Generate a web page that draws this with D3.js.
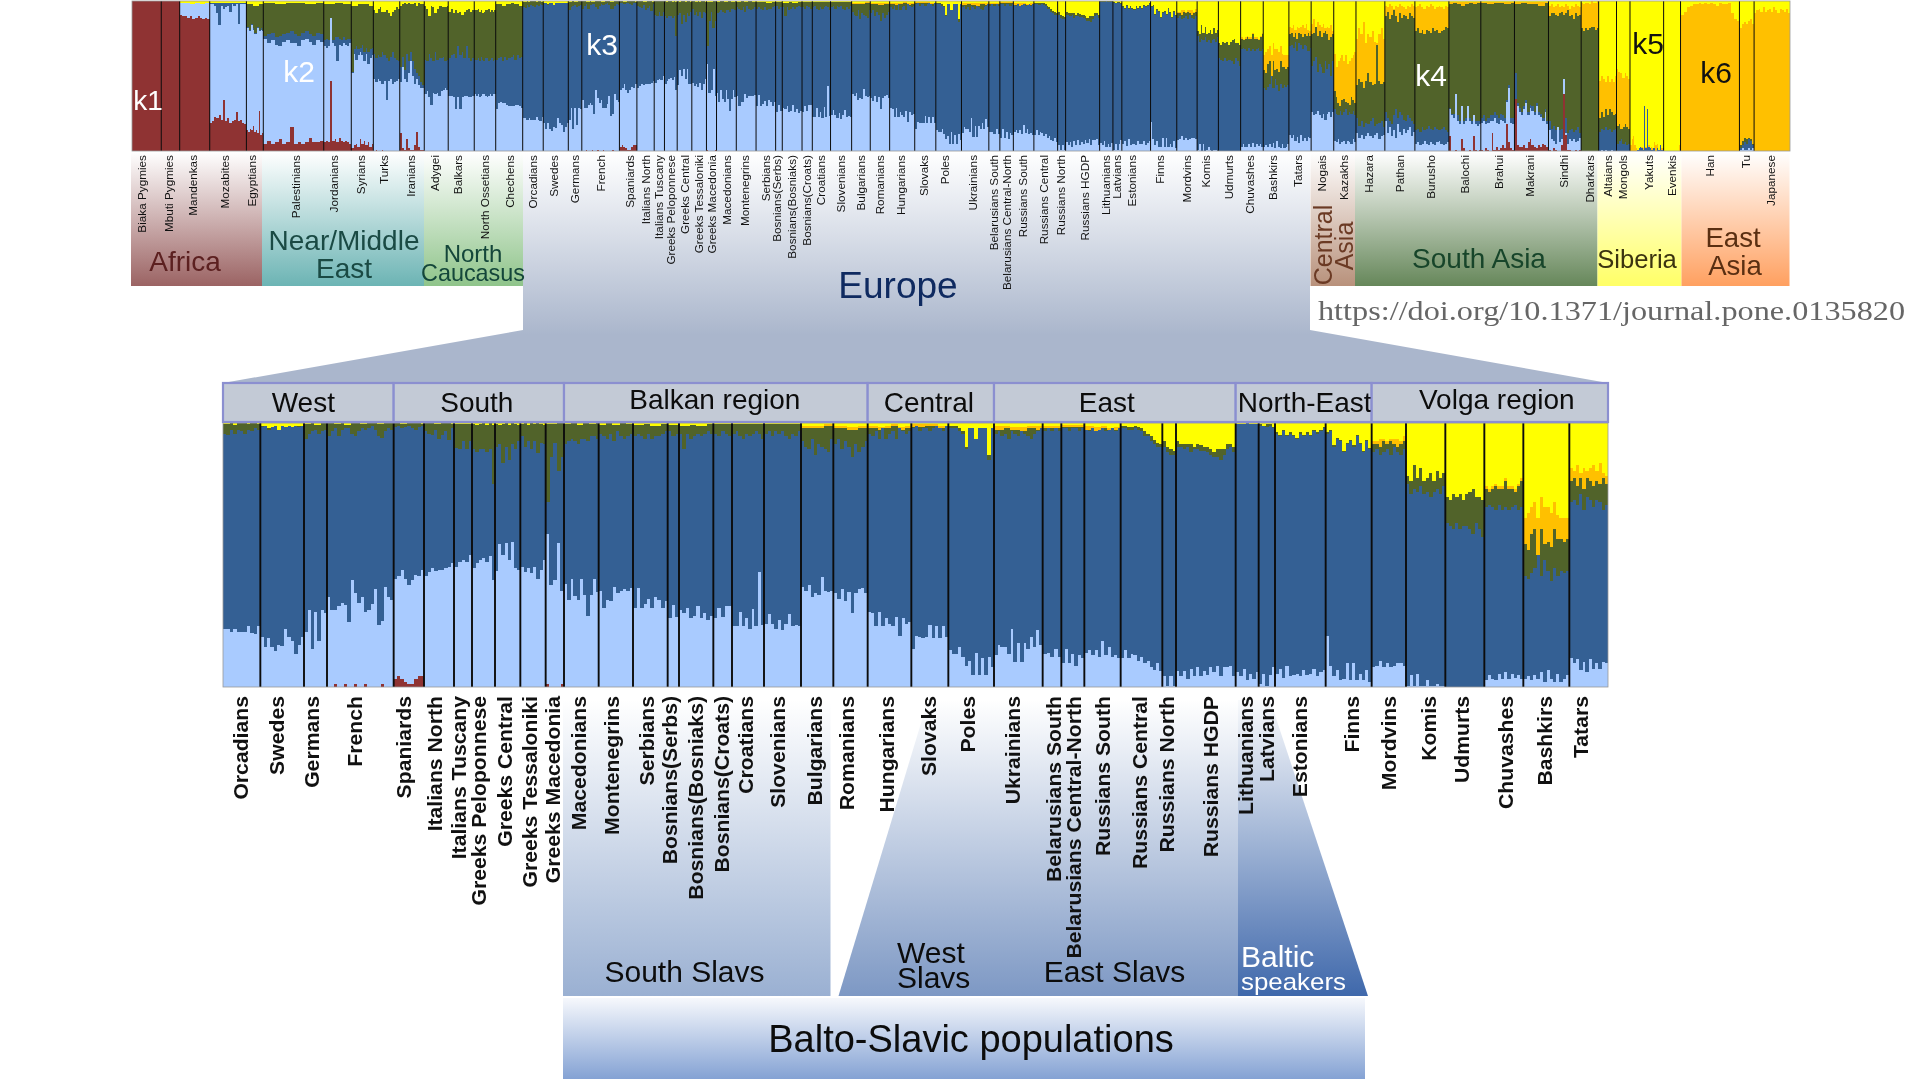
<!DOCTYPE html>
<html><head><meta charset="utf-8">
<script src="https://cdn.jsdelivr.net/npm/d3@7"></script>
<style>html,body{margin:0;padding:0;background:#fff}svg{display:block;filter:blur(0.35px)}text{font-family:"Liberation Sans",Arial,sans-serif}</style>
</head><body><svg id="c" width="1920" height="1080"></svg>
<script>
// ---------- names ----------
const preNames=["Biaka Pygmies","Mbuti Pygmies","Mandenkas","Mozabites","Egyptians","Palestinians","Jordanians","Syrians","Turks","Iranians","Adygei","Balkars","North Ossetians","Chechens"];
const europeNames=["Orcadians","Swedes","Germans","French","Spaniards","Italians North","Italians Tuscany","Greeks Peloponnese","Greeks Central","Greeks Tessaloniki","Greeks Macedonia","Macedonians","Montenegrins","Serbians","Bosnians(Serbs)","Bosnians(Bosniaks)","Bosnians(Croats)","Croatians","Slovenians","Bulgarians","Romanians","Hungarians","Slovaks","Poles","Ukrainians","Belarusians South","Belarusians Central-North","Russians South","Russians Central","Russians North","Russians HGDP","Lithuanians","Latvians","Estonians","Finns","Mordvins","Komis","Udmurts","Chuvashes","Bashkirs","Tatars"];
const postNames=["Nogais","Kazakhs","Hazara","Pathan","Burusho","Balochi","Brahui","Makrani","Sindhi","Dharkars","Altaians","Mongols","Yakuts","Evenkis","Han","Tu","Japanese"];

// ---------- sample sizes (bar widths are read through the x scales) ----------
const preSizes=[15.4,9.7,15.8,19.3,8.9,31.8,14.5,11.6,13.9,12.9,12.6,13.7,11.3,14.2];
const europeSizesTop=[10.8,13.2,7.1,19.8,9.2,9.1,5.4,6.7,7.7,7.7,5.3,10.4,10.4,10.3,3.5,10.4,5.4,9.6,11.1,9.8,10.2,13.2,11.1,13.5,14.4,5.8,7.1,10.8,12.5,4.2,17.9,7,4.7,15.1,13.8,10.7,11.2,11.7,11.9,13.5,11.7];
const postSizes=[11.9,11.7,15.2,15.8,17.9,16.8,17.7,17.9,17.2,9.2,9.4,7.1,17.7,8.9,31,7.7,18.9];
const europeSizes=[11.2,13.1,6.9,20,9.1,9,5.4,6.9,7.6,7.6,5.5,10.4,10.3,10.4,3.4,10.3,5.6,9.6,11.1,9.7,10.3,13.1,11.1,13.7,14.6,5.6,6.9,10.9,12.5,4.1,17.9,6.9,4.9,15.2,13.8,10.3,11.8,11.7,11.7,13.8,11.6];

// ---------- Europe: cumulative upper edge of each ancestry, % per individual ----------
const europeK1=[[0],[0],[0],[0,0,1,0,0,1,0,0,1,0,0,1,0,0,0,0,1,0,0,0],[3,4,3,2,1,1,3,4,4],[0],[0],[0],[0],[0],[1,0,0,0,1],[0],[0],[0],[0],[0],[0],[0],[0],[0],[0],[0],[0],[0],[0],[0],[0],[0],[0],[0],[0],[0],[0],[0],[0],[0],[0],[0],[0],[0],[0]];
const europeK2=[
[22,22,21,22,21,21,21,23,20.5,20,23],
[19,15,18.5,15,13.5,16,15.5,22,19,17.5,12.5,16,19],
[21,29,14.5,28.5,17.5,29,28],
[34,29,29,30.5,32,31,24.5,40.5,35.5,32,34,28.5,29,31.5,37,23.5,25,38,34,33],
[41,42,44.5,41,38.5,40.5,42.5,42,44.5],
[42,43.5,45,44,44.5,44.5,45,45.5,47],
[45.5,47.5,48,47.5,50],
[45,47,48,49,47.5,49.5,40.5],
[44,54,50,54.5,48,55,45,44.5],
[45.5,43.5,45,43,45.5,41,44.5,48],
[58,38.5,40.5,54.5,36.5],
[39,33,41,34.5,33,41,35,27,35,41,36],
[36.5,30,33,32.5,38,35.5,36.5,37,36.5,37.5],
[30,37.5,30,31.5,33.5,30,34,33,30,32.5],
[26,31,26.5],
[29,28,30,26,27,30.5,26,28,25.5,27],
[26,30,26.5,30.5,30.5],
[23,23,28.5,23,26,22,29.5,23,43.5,23.5],
[24,27.5,24,22,25.5,21.5,24,27.5,23,23.5,23],
[38,36.5,38.5,34,35.5,35,41.5,36.5,36,36.5],
[35.5,33.5,37,32.5,36,28,35.5,37,37.5,35.5],
[28.5,28,23,28.5,23,26,24,23,26.5,19.5,26,24,24.5],
[14.5,19.5,19,18.5,19,23.5,18.5,23,18.5,23,19],
[14,12.5,12.5,15,11.5,8,10,4.5,13,4.5,11,4.5,11.5,7.5],
[12,16,15,15,12.5,22,9.5,16.5,9.5,16.5,14.5,19,15,21.5,16],
[12.5,13,11.5,14.5,11.5],
[9,14.5,9,12.5,8,12,11],
[13,14,12,14,11.5,17.5,12,15,11.5,12,11],
[11,14,11,12.5,12,10,11.5,9,10,7.5,6.5,9,6],
[4,0.5,4,0.5],
[6,4,6,3,7,4,7.5,4,6,4.5,7.5,5.5,8,4,7.5,7.5,8,4],
[5.5,4,7,2.5,5,3,5.5],
[1,5,0.5,4.5,7.5],
[5,7,3.5,8,4,4.5,5,4,6.5,4.5,5,7,4,5.5,6.5],
[19.5,8,4,6.5,2.5,3,9,2.5,9,2.5,5,2.5,6.5,2],
[7.5,8,10,7.5,9,7.5,8,9,9,8],
[0.5,4.5,0.3,5,0.3,0.5,2.5,0.5,0.3,1,0.5,0.3],
[0],
[2.5,4.5,3,2.5,5,3,5.5,3,5,3.5,4.5,3],
[3,4,2.5,4.5,3,5.5,2,6.5,3,2,5,2,3,4.5],
[11,9,10.5,6.5,9.5,5.5,10.5,7,9,7,9.5,9]];
const europeK3=[
[96,95.5,97.5,96,97.5,97,96,97.5,97,98,97.5],
[98.5,99,97.5,98.5,99,97.5,99,98.5,99,98.5,99,98.5,99],
[94,96,97,97.5,96,97,97.5],
[95,97,98,95,97.5,98,98,96,95,97,98,97.5,98,99,97.5,95,94.5,97,98,97.5],
[98.5,99,98,98.5,99,98,97.5,98.5,99],
[97,96,95.5,97.5,94,95.5,97,93.5,98],
[90.5,90,93,90,93],
[90,89,90,90,89,90,77],
[91,92,85,91,86,92,90,93],
[95,91,93,90,93,88.5,92.5,92],
[70,87,92.5,82,87],
[92,93,94,93,92,94,94,93,95,95,94],
[96,95,94,96,93,97,95,94,95,96],
[95,96,95,94,96,94,95,95,96,97],
[97,95,96],
[96,90,96,94,95,96,95,96,97,96],
[96,95,97,96,95],
[96,97,95,94,96,95,96,97,96,94],
[96,97,95,97,96,97,95,94,96,95,97],
[93,91,90,94,88,92,91,90,89,94],
[92,94,90,93,91,87,92,89,91,93],
[96,95,97,94,98,94,96,97,94,98,97,96,97],
[98,99,97,98,98,97,98,99,98,97,99],
[98,98,98,97,96,90,98,98,94,98,98,98,86,98],
[96,97,95,96,94,97,96,95,97,96,95,94,96,97,98],
[97,98,97,98,97],
[98,98,97,98,98,97,98],
[97.5,97,98,97,97.5,98,97,97.5,98,97,98],
[98,98,97.5,97.5,98,97.5,97,95,95,93,92,91,91],
[91,89,88,88],
[91,91,90,91,89,90,90,89.5,89.5,89,88,87,87,86,88,90,91,89],
[99.5,99.5,99.5,100,99.5,99.5,99.5],
[99,99,98.5,99,98],
[96,95,97,95,96,95,94,96,95,96,95,97,96,97,98],
[96,97,91,94,93,89,92,93,91,95,92,89,93,90],
[89,90,88,89,90,88,91,89,88,90],
[77,73,75,74,76,73,74,72,74,75,73,76],
[62,61,60,62,60,61,61,60,58,62,60,57],
[68,69,68,67,69,67,68,67,68,69,67,68],
[42,41,43,45,50,42,48,44,40,45,42,44,43,44],
[70,71,69,73,67,72,71,68,71,70,67,69]];
const europeK4=[[99.6,100,99.4,100,100,99.5,100,100,99.6],[99,98.5,98,97.5,98,97,97.5,98,98.5,98,98,99,99],[99.5,100,99.3,100,100],[100,99.6,100,99.3,100,100,99.6,100,100,99.5,100,100],[100,99.6,100,100,99.5],[100,100,99.5,100,100,99.6],[99.8],[99.8,99.4,99.8,100,99.2,100,99.4],[99.8,99.3,99.8,100,99.4,100,99.8,99.4],[99.8,100,99.2,100,99.5,100,99.8,99.4],[99.6,100],[99.6,100,99.3,100,99.6,100],[99.4,100,99.2,100,99.5],[99.2,99.6,99,99.6],[99.4],[99,99.4,99,99.6],[99.6],[99.6],[99.5],[98,98,99],[98,97.5,98],[98,97.5,98,99,97.5,98],[98.5,99,98],
[99,99,99,98,97,91,98,98,94,98,98,98,88,98],
[97.5,98,97.5,97,98,97.5],[98],[98.5],[97.5,97,98,97,97.5],
[99,99,98.5,98.5,99,98.5,98,97,96,95,93.5,92.5,92],
[93,91,90,89.5],
[93,92,92,92,92,91,92,91.5,91,91,90,89,90,90,90,92,92,91],
[99.7],[99.5,99,99.5,99.5,98.5],
[96.5,95.5,97.5,95.5,96.5,95.5,94.5,96.5,95.5,96.5,95.5,97.5,96.5,97.5,98.5],
[96.5,97.5,91.5,94.5,93.5,89.5,92.5,93.5,91.5,95.5,92.5,89.5,93.5,90.5],
[92,92,91,93,92,93,92,91,92,93],
[80,78,84,79,83,78,79,81,78,82,79,81],
[72,71,73,72,73,71,73,74,75,72,72,71],
[75,74,75,76,75,75,78,75,75,74,76,78],
[54,52,58,60,50,60,54,55,53,60,56,56,55,56],
[78,79,76,79,75,79,78,76,78,77,79,77]];
const europeK6=[[0],[0],[0],[0],[0],[0],[0],[0],[0],[0],[0],[0],[0],[0],[0],[0],[0],[0],[0],[99,99,99.5],[99,98.5,99],[99,98.5,99,99.5,98.5,99],[99.5,99.5,99],[0],[99,98.5,99],[99],[99.3],[99,98.5,99,98,98.5],[0],[0],[0],[0],[0],[0],[0],[93,93,94,94,93,94,94,94,93,95],[0],[0],[76,75,76,77,76,76,79,76,76,75,77,79],[64,66,68,70,64,72,68,68,66,70,65,64,64,64],[83,82,84,81,83,82,83,84,82,85,81,80]];

// ---------- outside Europe (pre- then post-Europe populations) ----------
const outerK1=[[100],[100],[91,90,90,89,90,88,89,90,89,88,89,88],[19,20,23,22,24,21,34,20,22,19,20,21,26,20,21,19,18],[14,13,15,14,17,13,14,12,27,11,12],[5,7,5,6,8,5,6,16,5,6,5,6,9,6,6,7],[6,7,6,47,7,8,6,9,7,6,7,6,5],[2,4,5,3,8,5,7,4,6,3,5],[0,1,0,0,1,0,0,0,0,0,0,0,0],[12,2,1,8,2,1,1,4,13,3,1,1],[0],[0],[0],[0],
[0],[0],[0],[0],[0],[10,0,0,1,0,0,8,2,0,0,1,0,10,1,0,1],[1,0,2,1,0,12,1,3,1,2,4,2,18,6,2,1],[35,4,3,3,4,2,6,8,4,3,2,4,3,5,4,3],[1,0,2,1,0,0,4,38,11,1,1,0,0,1,0,1],[0],[0],[0],[0],[0],[0],[0],[0]];
const outerK2=[[0],[0],[99,99,98,99,98,99],[98,98,97,92,84,97,95,96,97,93,98,97,98,85,98,98,98],[82,80,84,81,78,82,80,81,80],[75,72,74,71,70,73,74,72,72,70,74,75,73,71,74,73],[70,69,70,89,72,70,60,71,70,72,71,70,72],[52,65,61,64,66,64,60,65,58,62,64],[48,46,48,47,45,47,34,47,48,45,46,47,48],[46,56,48,46,52,60,50,45,48,44,42,42],[38,40,36,31,39,38,39,37,40,41,42,41],[37,37,36,28,36,28,36,37,37,36,36,37],[38,37,38,36,37,38,38,37,36,37,38,37,38,38],[28,32,33,32,32,31,30,30,30,31,31,30,29],
[26,24,25,27,24,22,25,21,25,26,23,26],[7,6,8,5,6,7,5,7,6,5,8,6],[12,9,11,8,10,12,10,9,11,12,8,10,11],[20,12,16,10,14,9,18,13,11,15,12,14,16,10,13],[5,6,4,5,7,5,4,6,5,4,6,7,5,4,5,6],[28,24,22,38,20,18,30,18,20,30,20,18,24,18,17,18],[19,20,18,19,20,20,22,19,18,21,20,19,33,42,19,18],[35,30,26,24,28,32,24,29,27,24,30,24,23,20,26,18],[14,8,7,5,16,6,8,48,12,5,8,7,8,6,7,9],[0],[0,1,0,1,0,0,1,0,0],[0],[0],[0],[0],[1,2,1,1,2,1,2],[0]];
const outerK3=[[0],[0],[0],[99],[83,81,85,82,79,83,81,82,81],[77,78,79,76,77,78,79,80,78,77,79,80,78,77,79,78],[74,75,74,89,74,76,76,75,74,76,74,75,75],[53,68,70,68,69,71,66,69,66,68,69],[65,62,64,63,66,64,62,60,63,66,62,61,60],[56,63,54,65,60,66,60,55,52,50,46,44],[61,60,65,62,60,66,61,62,62,63,60,61],[62,64,65,62,70,64,66,62,70,62,60,62],[61,62,60,63,61,60,62,60,61,62,60,61],[61,62,63,60,63,61,62,63,64,61,64,62,63],
[57,60,63,53,58,56,52,60,55,58,50,60],[28,25,24,27,24,26,28,24,26,25,27,24],[22,17,20,16,19,18,20,22,17,18,19,20,16],[26,22,20,18,24,28,22,26,24,21,20,24,22,20,18],[14,15,13,16,14,15,17,15,14,16,15,14,15,16,14,13],[29,25,25,38,24,20,30,20,22,30,22,20,24,20,20,20],[22,24,20,22,24,24,26,24,22,25,24,22,34,44,22,22],[52,32,29,26,30,34,26,31,30,26,32,26,25,22,28,20],[20,15,17,14,16,14,15,48,22,12,14,15,13,14,16,12],[0],[13,15,14,16,14,15,13,14,15],[5,7,8,5,6,4,5],[0,0,0,0,0,1,2,3,2,1,30,2,28,3,2,1,2,2,0,2,1,4,1,2],[0],[0],[2,4,6,5,8,7,4],[0]];
const outerK4=[[0],[0],[0],[0],[98,97,98],[99,98,99,99,98,99],[98,99,98],[97,98,98,97],[94,92,95,96,93,93,94,92,90,93,94,96,95],[97,98,99,98,99,98,98,99,97,99,98,98],[97,95,90,97,96,92,95,97,97,96,96,97],[93,95,92,94,92,93,91,93,94,95,93,94],[94,95,93,94,92,93,94,95,93,94,93,94],[98,97,98,99,98,97],
[78,79,83,77,80,76,79,80,78,74,76,78],[40,36,32,30,34,35,33,32,31,36,34,32],[44,48,46,42,47,52,46,44,45,71,47,45,46],[90,93,88,91,94,90,86,92,89,91,90,88,92,90,89],[80,82,79,81,78,81,80,79,82,80,81,79,80,81,83,82],[98,99,98,97,98,99,98,99],[99,98,99,99,98,99],[98,99,98,98,97,99],[90,92,92,91,90,92,93,91,92,94,90,91,88,92,90,91],[82,80,82,81,82,83,83,81,82],[22,26,23,28,24,28,26,24,25],[17,18,15,16,18,16,15],[0],[0],[0],[4,7,9,8,9,8,5],[0]];
const outerK6=[[0],[0],[0],[0],[0],[0],[0],[0],[0],[0],[0],[0],[0],[0],
[85,88,80,86,84,83,85,82,83,82,84,80],[65,56,60,62,64,60,64,58,60,62,64,66],[75,82,78,86,72,78,76,80,73,72,78,82,75],[97,96,98,97,95,97,96,98,97,96,95,97,96,98,97],[96,97,98,96,95,97,96,98,97,95,96,97,96,95,97,96],[99.5],[99.5],[99.5],[97,98,96,97,98,96,97,96,98,97,95,97,96,98,97,96],[99,98,99,99,98,100,99,99,100],[47,50,48,46,50,46,48,46,50],[55,53,52,49,52,50,48],[4,8,10,4,2,1,2,3,3,2,30,3,28,4,2,3,2,6,4,5,1,3,2,5],[0,0,0,0,0,0,0,0,4],[91,93,96,97,98,98,99,98,99,98,99,98,97,99,98,98,99,92,88,87],[82,85,86,85,87,88,85],[92,94,95,93,96,93,94,95,93,96,94,92,95,94,93,95,92]];

// ---------- annotation text ----------
const kLabels=["k1","k2","k3","k4","k5","k6"];
const europeRegions=[["West",0,4],["South",4,11],["Balkan region",11,21],["Central",21,24],["East",24,31],["North-East",31,35],["Volga region",35,41]];

// ---------- layout (not data) ----------
const topLabelNudge=[-4,-1,-1,-3,-3,2.5,-3.5,-0.5,-2.5,-1,-1,-3,0.7,1, 0,-1,0.7,1,1.7,0.7,0,0,0.7,0,1,0.7,-1,0.5,-1.4,0,0,0,0,0,0,-1,-1,-3,-2,0,1,0,-1,0,3,0,0,-3.6,-3,0,-1.4,0,-1.6,-2.8,-2, 0,-1,-1,0,-1,0,1.5,-1.3,0,0,0.6,0,2.4,0.6,0,-0.7,-1];
const bottomLabelNudge=[-1,-5,-4,-5,-5,-4,-4,-5,-3,-3,-2,-2,-4,-3,-3,0,-1,-2,-5,-2,-4,-3,-1,-3,-5,2,1,0,-2,-2.5,5,-1.5,0,0,3,0,3,-3,2,-1,-8];
const regionTextDx=[-5,-2,-1,-2,-8,1,7];
const regionTextDy=[0,0,-3,0,0,0,-3];
const colors={k1:"#8f3333",k2:"#a9cbff",k3:"#346094",k4:"#51632a",k6:"#ffc000",k5:"#ffff00"};
const keys=["k1","k2","k3","k4","k6","k5"];

const svg=d3.select("#c"),defs=svg.append("defs");
function grad(id,y1,y2,c1,c2){const g=defs.append("linearGradient").attr("id",id).attr("gradientUnits","userSpaceOnUse").attr("x1",0).attr("x2",0).attr("y1",y1).attr("y2",y2);g.append("stop").attr("offset",0).attr("stop-color",c1);g.append("stop").attr("offset",1).attr("stop-color",c2);return `url(#${id})`;}
function band(x0,x1,y0,y1,fill){svg.append("rect").attr("x",x0).attr("y",y0).attr("width",x1-x0).attr("height",y1-y0).attr("fill",fill);}
function poly(pts,fill){svg.append("polygon").attr("points",pts.map(p=>p.join(",")).join(" ")).attr("fill",fill);}
function txt(s,x,y,size,fill,o={}){const t=svg.append("text").text(s).attr("font-size",size).attr("fill",fill).attr("text-anchor",o.anchor||"middle").attr("x",x).attr("y",y);if(o.weight)t.attr("font-weight",o.weight);if(o.len)t.attr("textLength",o.len).attr("lengthAdjust","spacingAndGlyphs");if(o.family)t.style("font-family",o.family);return t;}
function vtxt(s,x,y,size,fill,o={}){const t=svg.append("text").text(s).attr("font-size",size).attr("fill",fill).attr("text-anchor",o.anchor||"end").attr("dy",o.dy||"0.35em").attr("transform",`translate(${x},${y}) rotate(-90) scale(${o.sx||1},1)`);if(o.weight)t.attr("font-weight",o.weight);return t;}

// ---------- background regions ----------
poly([[523,152],[1310,152],[1310,330],[1608,383],[223,383],[523,330]],grad("gEu",152,335,"#ffffff","#aab6cc"));
band(131,262,152,286,grad("gAf",152,286,"#ffffff","#9b6363"));
band(262,424,152,286,grad("gNe",152,286,"#ffffff","#6cb4b4"));
band(424,523,152,286,grad("gCa",152,286,"#ffffff","#8fc48a"));
band(1310.5,1355,152,286,grad("gCe",152,286,"#ffffff","#b8917b"));
band(1355,1597.5,152,286,grad("gSo",152,286,"#ffffff","#66875a"));
band(1597.5,1681.5,152,286,grad("gSi",152,286,"#ffffff","#ffff66"));
band(1681.5,1789.5,152,286,grad("gEa",152,286,"#ffffff","#ffa060"));
band(563,830.5,700,996,grad("gSS",700,996,"#ffffff","#9ab0d2"));
poly([[928,700],[1238,700],[1238,996],[838.5,996]],grad("gWE",700,996,"#ffffff","#7d98c4"));
poly([[1238,700],[1270,700],[1368,996],[1238,996]],grad("gBa",690,996,"#ffffff","#3f68ab"));
band(563,1365,998,1079,grad("gBS",998,1079,"#f6f8fc","#84a2d4"));

// ---------- admixture bars ----------
function at(a,j,n){return a[Math.floor(j*a.length/n)];}
function rowsFor(sizes,K1,K2,K3,K4,K6){
  const rows=[];let c=0;
  sizes.forEach((s,i)=>{
    const n=d3.max([K1,K2,K3,K4,K6],K=>K[i].length);
    for(let j=0;j<n;j++){
      const t1=at(K1[i],j,n),t2=Math.max(t1,at(K2[i],j,n)),t3=Math.max(t2,at(K3[i],j,n)),t4=Math.max(t3,at(K4[i],j,n)),t6=Math.max(t4,at(K6[i],j,n));
      rows.push({x0:c+s*j/n,x1:c+s*(j+1)/n,k1:t1,k2:t2-t1,k3:t3-t2,k4:t4-t3,k6:t6-t4,k5:100-t6});
    }
    c+=s;
  });
  return rows;
}
function panel(sizes,names,rows,xr,yr,sepW,labelY,labelSize,nudge,labelOpts){
  const x=d3.scaleLinear().domain([0,d3.sum(sizes)]).range(xr),y=d3.scaleLinear().domain([0,100]).range(yr);
  const g=svg.append("g").attr("shape-rendering","crispEdges");
  g.selectAll("g").data(d3.stack().keys(keys)(rows)).join("g").attr("fill",d=>colors[d.key])
   .selectAll("rect").data(d=>d).join("rect")
   .attr("x",d=>x(d.data.x0)).attr("width",d=>x(d.data.x1)-x(d.data.x0)+0.3)
   .attr("y",d=>y(d[1])).attr("height",d=>y(d[0])-y(d[1]));
  const edges=d3.cumsum(sizes);
  svg.append("g").selectAll("line").data(edges.slice(0,-1)).join("line")
   .attr("x1",d=>x(d)).attr("x2",d=>x(d)).attr("y1",yr[1]).attr("y2",yr[0]).attr("stroke","#0c0c0c").attr("stroke-width",sepW);
  svg.append("rect").attr("x",xr[0]).attr("y",yr[1]).attr("width",xr[1]-xr[0]).attr("height",yr[0]-yr[1]).attr("fill","none").attr("stroke","#9a9a9a").attr("stroke-width",0.8);
  names.forEach((n,i)=>{const c=(i?edges[i-1]:0)+sizes[i]/2;vtxt(n,x(c)+nudge[i],labelY,labelSize,"#111",labelOpts);});
}
const topRows=rowsFor([...preSizes,...europeSizesTop,...postSizes],
  [...outerK1.slice(0,14),...europeK1,...outerK1.slice(14)],
  [...outerK2.slice(0,14),...europeK2,...outerK2.slice(14)],
  [...outerK3.slice(0,14),...europeK3,...outerK3.slice(14)],
  [...outerK4.slice(0,14),...europeK4,...outerK4.slice(14)],
  [...outerK6.slice(0,14),...europeK6,...outerK6.slice(14)]);
panel([...preSizes,...europeSizesTop,...postSizes],[...preNames,...europeNames,...postNames],topRows,[132,1790],[151,1],1,155,10.5,topLabelNudge,{sx:1.12});
panel(europeSizes,europeNames,rowsFor(europeSizes,europeK1,europeK2,europeK3,europeK4,europeK6),[223,1608],[687,423],1.9,696,20,bottomLabelNudge,{weight:"bold",sx:1.06});

// ---------- europe region header boxes ----------
const xB=d3.scaleLinear().domain([0,d3.sum(europeSizes)]).range([223,1608]),edgesB=[0,...d3.cumsum(europeSizes)];
europeRegions.forEach(([r,a,b],i)=>{
  svg.append("rect").attr("x",xB(edgesB[a])).attr("y",383).attr("width",xB(edgesB[b])-xB(edgesB[a])).attr("height",39).attr("fill","#c3cad6").attr("stroke","#8b8fd0").attr("stroke-width",2.2);
  txt(r,(xB(edgesB[a])+xB(edgesB[b]))/2+regionTextDx[i],412+regionTextDy[i],28,"#0c0c0c");
});

// ---------- text ----------
[[kLabels[0],148,110,"#fff"],[kLabels[1],299,82,"#fff"],[kLabels[2],602,55,"#fff"],[kLabels[3],1431,86,"#fff"],[kLabels[4],1648,54,"#111"],[kLabels[5],1716,83,"#111"]].forEach((d,i)=>txt(d[0],d[1],d[2],i?30:28,d[3]));
txt("Africa",185,270.7,28,"#5c2020");
txt("Near/Middle",344,250,28,"#1a4a44");txt("East",344,278,28,"#1a4a44");
txt("North",473,262,24,"#14463a");txt("Caucasus",473,281,23.4,"#14463a");
txt("Europe",898,298,37,"#0f2a60");
svg.append("text").text("Central").attr("font-size",25).attr("fill","#6b3a24").attr("text-anchor","middle").attr("transform","translate(1331.5,245) rotate(-90)");
svg.append("text").text("Asia").attr("font-size",25).attr("fill","#6b3a24").attr("text-anchor","middle").attr("transform","translate(1352.5,246) rotate(-90)");
txt("South Asia",1479,268,28,"#17452a");
txt("Siberia",1637,268,25.6,"#3b3310");
txt("East",1733,247,27.6,"#5a2f12");txt("Asia",1735,275,27.6,"#5a2f12");
txt("https://doi.org/10.1371/journal.pone.0135820",1318,320,27,"#666",{anchor:"start",family:'"Liberation Serif",serif',len:587});
txt("South Slavs",684.5,981.7,30,"#0c0c0c");
txt("West",897,963,30,"#0c0c0c",{anchor:"start"});txt("Slavs",897,988,30,"#0c0c0c",{anchor:"start"});
txt("East Slavs",1114.5,981.7,30,"#0c0c0c");
txt("Baltic",1241,967,30,"#fff",{anchor:"start"});txt("speakers",1241,990,24,"#fff",{anchor:"start",len:105});
txt("Balto-Slavic populations",971,1051.7,38,"#0c0c0c");
</script></body></html>
